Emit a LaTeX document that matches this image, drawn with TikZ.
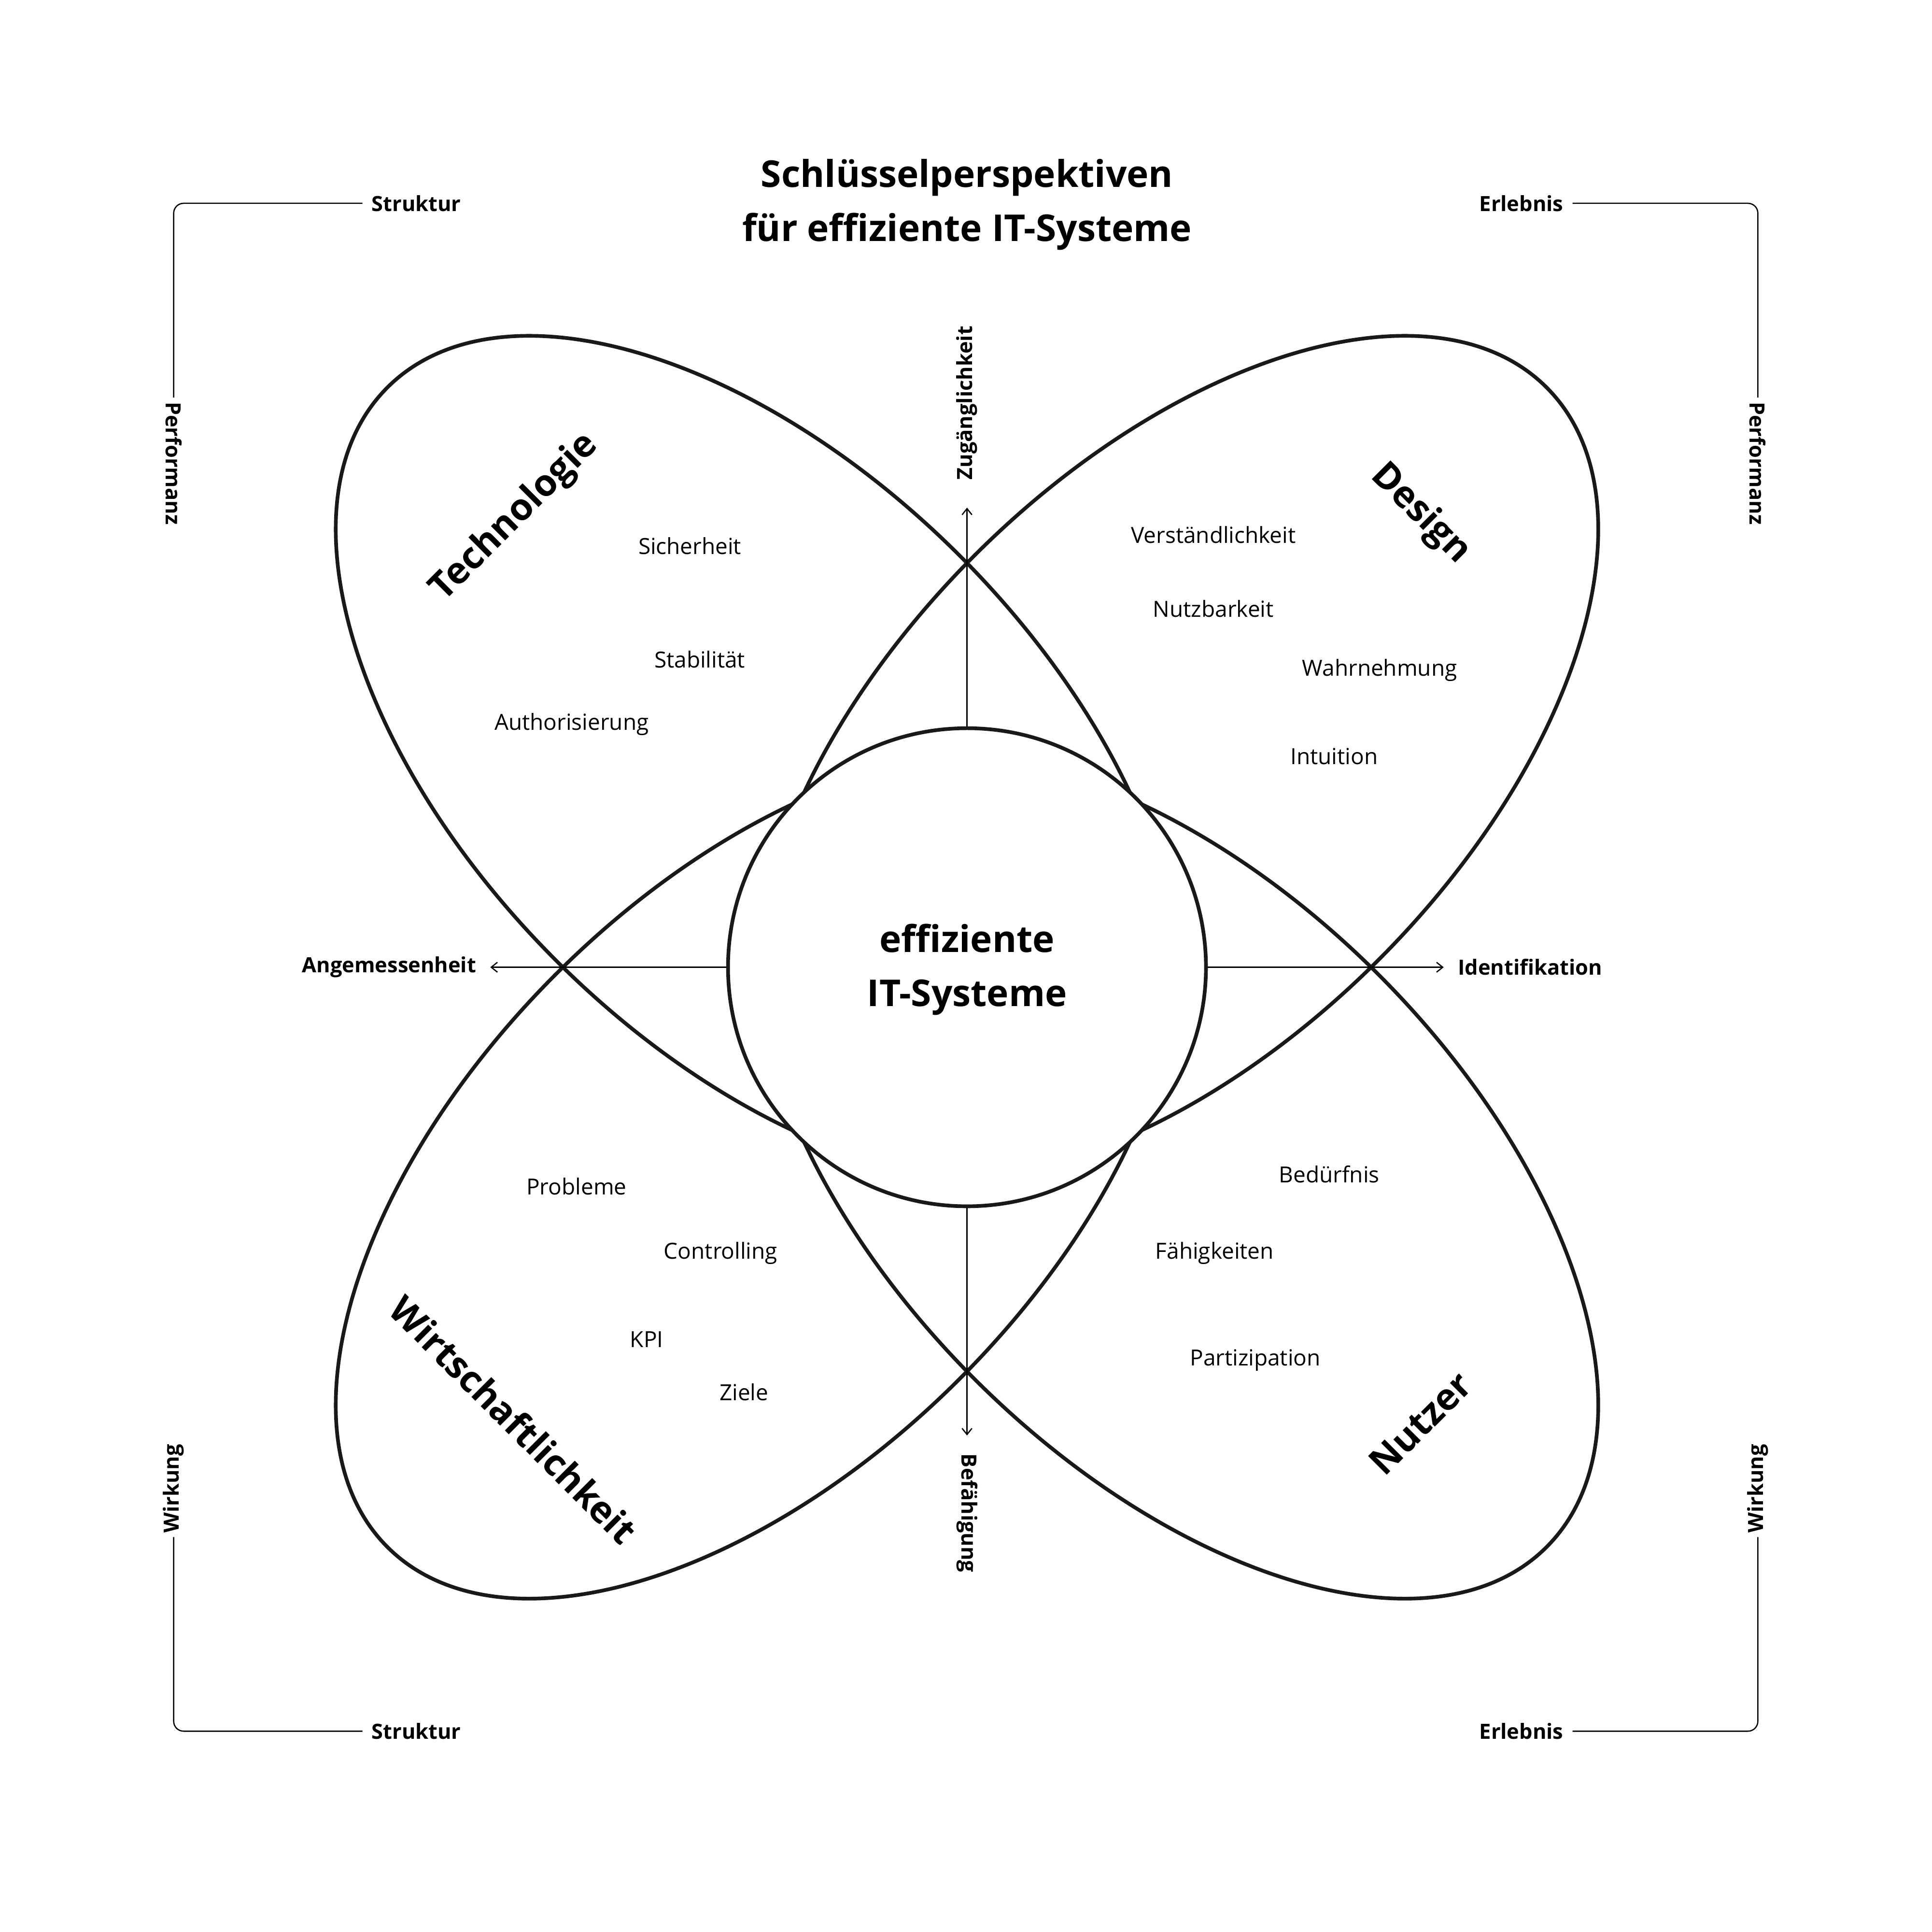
\documentclass[tikz,border=0pt]{standalone}
\usepackage{fontspec}
\setmainfont{Open Sans}
\usetikzlibrary{arrows.meta}
\begin{document}
\begin{tikzpicture}[x=1pt,y=-1pt,
  petal/.style={line width=3pt,draw=black!90},
  axisline/.style={line width=1pt,-{Straight Barb[length=5pt,width=8pt]}},
  bracket/.style={line width=1pt,rounded corners=8pt},
  item/.style={font=\fontsize{18}{22}\selectfont},
  small/.style={font=\bfseries\fontsize{17}{20}\selectfont},
  cat/.style={font=\bfseries\fontsize{30}{36}\selectfont},
  big/.style={font=\bfseries\fontsize{30}{44}\selectfont,align=center}]
\useasboundingbox (0,0) rectangle (1568,1568);
\fill[white] (0,0) rectangle (1568,1568);
\node[big] (title) at (785,166) {Schlüsselperspektiven\\für effiziente IT-Systeme};
% petals
\draw[petal] (615,615) ellipse [x radius=425, y radius=232, rotate=-45];
\draw[petal] (955,615) ellipse [x radius=425, y radius=232, rotate=45];
\draw[petal] (615,955) ellipse [x radius=425, y radius=232, rotate=45];
\draw[petal] (955,955) ellipse [x radius=425, y radius=232, rotate=-45];
\node[circle,draw=black!90,line width=3pt,fill=white,minimum size=388pt,inner sep=0pt] (core) at (785,785) {};
\node[big] (coretext) at (785,787) {effiziente\\IT-Systeme};
% axes
\coordinate (up) at (785,412);
\coordinate (dn) at (785,1165);
\coordinate (lf) at (398,785);
\coordinate (rt) at (1172,785);
\draw[axisline] (core.north) -- (up);
\draw[axisline] (core.south) -- (dn);
\draw[axisline] (core.west) -- (lf);
\draw[axisline] (core.east) -- (rt);
\node[small,rotate=90] (zug) at (785,327) {Zugänglichkeit};
\node[small,rotate=-90] (bef) at (785,1228) {Befähigung};
\node[small,anchor=east] (ang) at (390,785) {Angemessenheit};
\node[small,anchor=west] (ide) at (1180,785) {Identifikation};
% brackets
\node[small] (s1) at (338,165) {Struktur};
\node[small,rotate=-90] (p1) at (141,376) {Performanz};
\draw[bracket] ([xshift=-4pt]s1.west) -- (141,165) -- (p1.west);
\node[small] (e1) at (1235,165) {Erlebnis};
\node[small,rotate=-90] (p2) at (1427,376) {Performanz};
\draw[bracket] ([xshift=4pt]e1.east) -- (1427,165) -- (p2.west);
\node[small] (s2) at (338,1405) {Struktur};
\node[small,rotate=90] (w1) at (141,1208) {Wirkung};
\draw[bracket] (w1.west) -- (141,1405) -- ([xshift=-4pt]s2.west);
\node[small] (e2) at (1235,1405) {Erlebnis};
\node[small,rotate=90] (w2) at (1427,1208) {Wirkung};
\draw[bracket] (w2.west) -- (1427,1405) -- ([xshift=4pt]e2.east);
% categories
\node[cat,rotate=45] (tech) at (418,420) {Technologie};
\node[cat,rotate=-45] (des) at (1153,417) {Design};
\node[cat,rotate=-45] (wir) at (417,1152) {Wirtschaftlichkeit};
\node[cat,rotate=45] (nut) at (1153,1155) {Nutzer};
% items
\node[item] at (560,443) {Sicherheit};
\node[item] at (568,535) {Stabilität};
\node[item] at (464,588) {Authorisierung};
\node[item] at (985,434) {Verständlichkeit};
\node[item] at (985,494) {Nutzbarkeit};
\node[item] at (1120,544) {Wahrnehmung};
\node[item] at (1083,614) {Intuition};
\node[item] at (468,963) {Probleme};
\node[item] at (585,1017) {Controlling};
\node[item] at (525,1087) {KPI};
\node[item] at (604,1130) {Ziele};
\node[item] at (1079,953) {Bedürfnis};
\node[item] at (986,1017) {Fähigkeiten};
\node[item] at (1019,1104) {Partizipation};
\end{tikzpicture}
\end{document}
